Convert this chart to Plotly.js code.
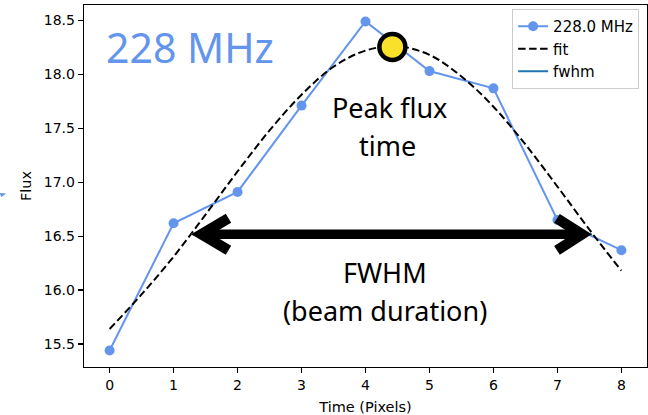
<!DOCTYPE html>
<html>
<head>
<meta charset="utf-8">
<script src="https://cdn.plot.ly/plotly-3.0.1.min.js"></script>
<style>
html,body{margin:0;padding:0;background:#fff;}
#chart{width:648px;height:415px;}
</style>
</head>
<body>
<div id="chart"></div>
<script>
// Observed flux per time pixel
const timePix = [0, 1, 2, 3, 4, 5, 6, 7, 8];
const flux = [15.44, 16.62, 16.91, 17.71, 18.49, 18.03, 17.87, 16.65, 16.37];

// Fit curve, values
const fitX = [0, 0.5, 1, 1.5, 2, 2.5, 3, 3.5, 4, 4.5, 5, 5.5, 6, 6.5, 7, 7.5, 8];
const fitY = [15.64, 15.96, 16.31, 16.70, 17.10, 17.48, 17.81, 18.07, 18.22, 18.26, 18.18, 17.98, 17.70, 17.35, 16.96, 16.56, 16.18];

// Peak flux time marker
const peakX = [4.42];
const peakY = [18.254];

// FWHM span
const fwhmX = [1.28, 7.54];
const fwhmY = [16.517, 16.517];

const xRange = [-0.4, 8.4];
const yRange = [15.2875, 18.6425];
const yTicks = [15.5, 16.0, 16.5, 17.0, 17.5, 18.0, 18.5];

const BLUE = '#6495ED';
const tickFont = {family: 'DejaVu Sans', size: 14, color: '#000'};
const titleFont = {family: 'DejaVu Sans', size: 14.5, color: '#000'};
const noteFont = 'Noto Sans';

const margin = {l: 84, r: 1, t: 5, b: 48};
const plotW = 648 - margin.l - margin.r;
const unitPx = plotW / (xRange[1] - xRange[0]);
const shaftInset = 12 / unitPx;

const traces = [
  {
    x: timePix, y: flux, name: '228.0 MHz', type: 'scatter', mode: 'lines+markers',
    line: {color: BLUE, width: 2}, marker: {color: BLUE, size: 10}
  },
  {
    x: fitX, y: fitY, name: 'fit', type: 'scatter', mode: 'lines',
    line: {color: '#000', width: 2, dash: '7.5px,3.5px', shape: 'spline', smoothing: 1}
  },
  {
    x: fwhmX, y: fwhmY, name: 'fwhm', type: 'scatter', mode: 'lines',
    line: {color: '#1f77b4', width: 2}
  },
  {
    x: peakX, y: peakY, type: 'scatter', mode: 'markers', showlegend: false,
    marker: {color: '#F8E02B', size: 26, line: {color: '#000', width: 4.5}}
  }
];

const shapes = [
  { type: 'line', xref: 'x', yref: 'y', layer: 'above',
    x0: fwhmX[0] + shaftInset, x1: fwhmX[1] - shaftInset, y0: fwhmY[0], y1: fwhmY[1],
    line: {color: '#000', width: 9.5} },
  { type: 'path', xref: 'x', yref: 'y', layer: 'above',
    xsizemode: 'pixel', ysizemode: 'pixel', xanchor: fwhmX[0], yanchor: fwhmY[0],
    path: 'M 37,16 L 10,0 L 37,-16', line: {color: '#000', width: 10.5} },
  { type: 'path', xref: 'x', yref: 'y', layer: 'above',
    xsizemode: 'pixel', ysizemode: 'pixel', xanchor: fwhmX[1], yanchor: fwhmY[1],
    path: 'M -35,16 L -10,0 L -35,-16', line: {color: '#000', width: 10.5} },
  { type: 'path', xref: 'paper', yref: 'paper', layer: 'above',
    path: 'M -0.1499,0.4807 L -0.1380,0.4790 L -0.1469,0.4696 Z',
    fillcolor: BLUE, line: {color: BLUE, width: 0} }
];

const annotations = [
  {text: '228 MHz', x: 1.26, y: 18.25, xref: 'x', yref: 'y', showarrow: false,
   font: {family: noteFont, size: 41, color: BLUE}},
  {text: 'Peak flux', x: 4.37, y: 17.695, xref: 'x', yref: 'y', showarrow: false,
   font: {family: noteFont, size: 27, color: '#000'}},
  {text: 'time', x: 4.34, y: 17.34, xref: 'x', yref: 'y', showarrow: false,
   font: {family: noteFont, size: 27, color: '#000'}},
  {text: 'FWHM', x: 4.31, y: 16.165, xref: 'x', yref: 'y', showarrow: false,
   font: {family: noteFont, size: 27, color: '#000'}},
  {text: '(beam duration)', x: 4.31, y: 15.814, xref: 'x', yref: 'y', showarrow: false,
   font: {family: noteFont, size: 27, color: '#000'}},
  {text: 'Flux', x: -58 / plotW, y: 0.5, xref: 'paper', yref: 'paper', showarrow: false,
   textangle: -90, xanchor: 'center', yanchor: 'middle', font: titleFont}
];

const layout = {
  width: 648, height: 415, margin: margin,
  paper_bgcolor: '#fff', plot_bgcolor: '#fff',
  showlegend: true,
  legend: {
    x: 0.986, y: 0.989, xanchor: 'right', yanchor: 'top',
    bgcolor: 'rgba(255,255,255,0.8)', bordercolor: '#cccccc', borderwidth: 1,
    font: {family: 'DejaVu Sans', size: 15, color: '#000'}, itemwidth: 30
  },
  xaxis: {
    range: xRange, tickvals: timePix, ticktext: timePix.map(String),
    showline: true, mirror: true, linecolor: '#000', linewidth: 1.3,
    ticks: 'outside', ticklen: 5, tickwidth: 1.3, tickcolor: '#000',
    showgrid: false, zeroline: false, tickfont: tickFont,
    title: {text: 'Time (Pixels)', font: titleFont}
  },
  yaxis: {
    range: yRange, tickvals: yTicks, ticktext: yTicks.map(v => v.toFixed(1)),
    showline: true, mirror: true, linecolor: '#000', linewidth: 1.3,
    ticks: 'outside', ticklen: 5, tickwidth: 1.3, tickcolor: '#000',
    showgrid: false, zeroline: false, tickfont: tickFont
  },
  shapes: shapes,
  annotations: annotations
};

Plotly.newPlot('chart', traces, layout, {displayModeBar: false, staticPlot: true});
</script>
</body>
</html>
